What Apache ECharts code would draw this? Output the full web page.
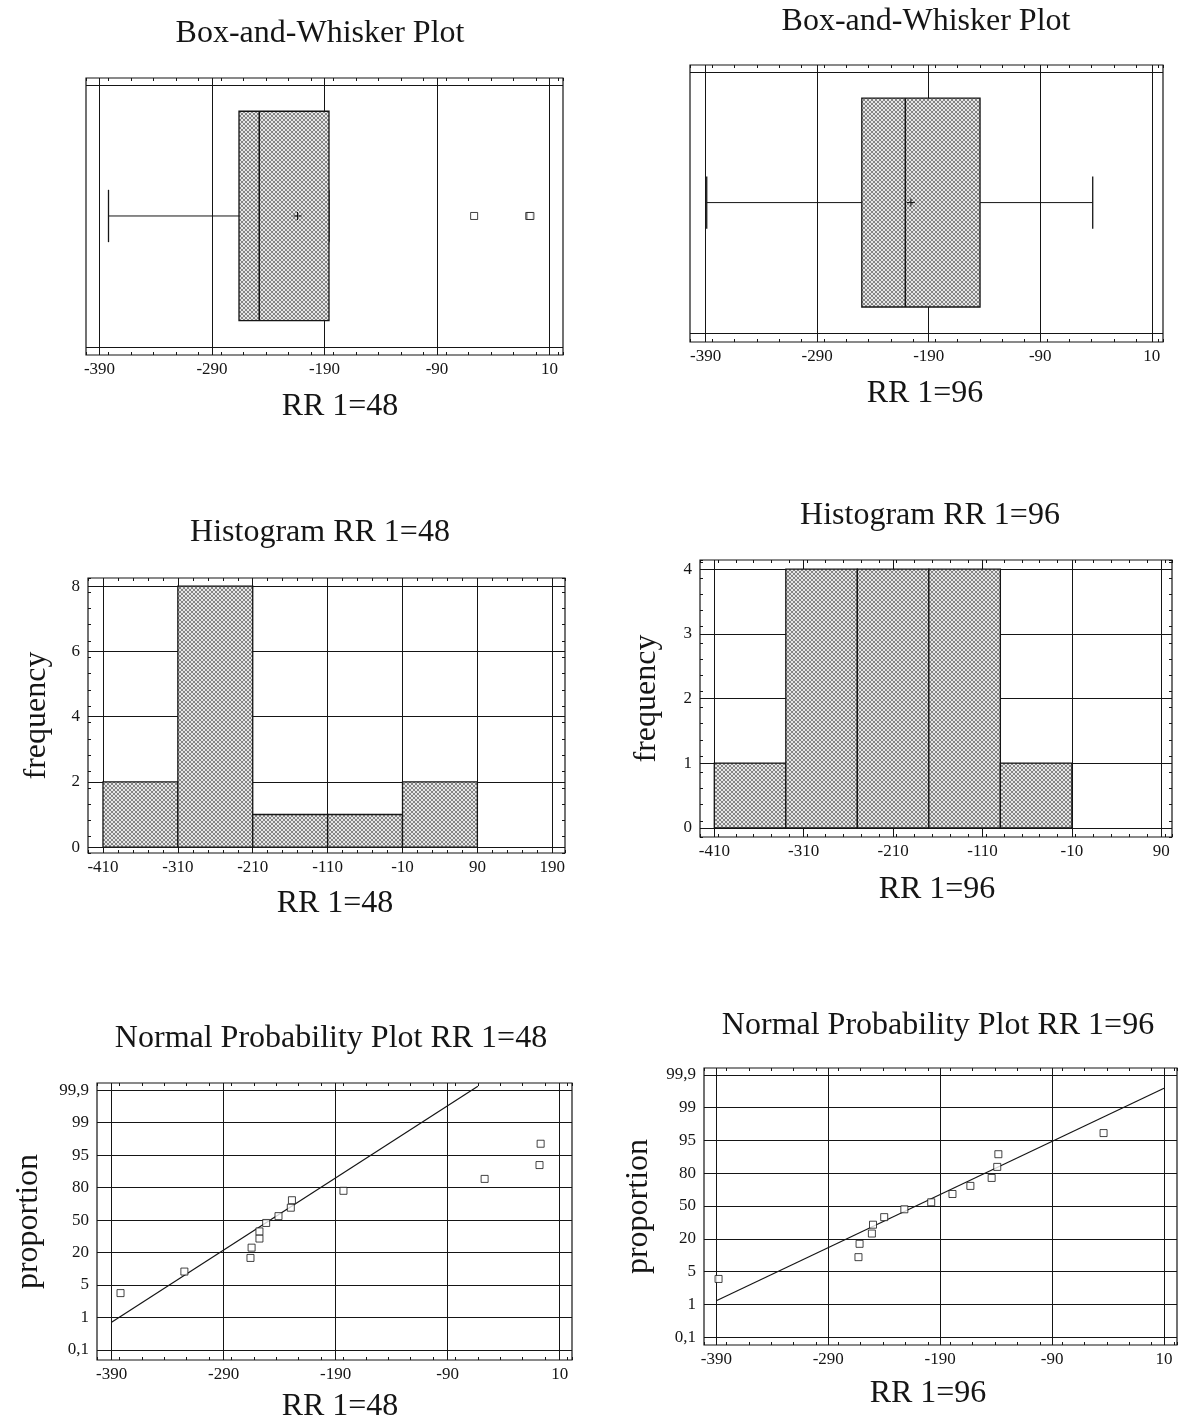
<!DOCTYPE html>
<html>
<head>
<meta charset="utf-8">
<title>RR 1=48 / RR 1=96</title>
<script src="https://cdn.jsdelivr.net/npm/echarts@6/dist/echarts.min.js"></script>
<style>
  html, body { margin: 0; padding: 0; background: #fff; }
  #main { width: 1179px; height: 1422px; }
</style>
</head>
<body>
<div id="main"></div>
<script>
// values
const xTicksRR = [-390, -290, -190, -90, 10];
const xTicksHist48 = [-410, -310, -210, -110, -10, 90, 190];
const xTicksHist96 = [-410, -310, -210, -110, -10, 90];
const yTicksHist48 = [0, 2, 4, 6, 8];
const yTicksHist96 = [0, 1, 2, 3, 4];
const probTicks = ['0,1', '1', '5', '20', '50', '80', '95', '99', '99,9'];
const probTickValues = [0.1, 1, 5, 20, 50, 80, 95, 99, 99.9];

// box-and-whisker: lower whisker, Q1, median, Q3, upper whisker, mean
const box48 = [-382, -266, -248, -186, -186, -214];
const box48Outliers = [-57, -8, -7];
const box96 = [-389, -250, -211, -144, -43, -206];
const box96Outliers = [];

// histograms: bin edges + frequencies
const hist48Edges = [-410, -310, -210, -110, -10, 90];
const hist48Counts = [2, 8, 1, 1, 2];
const hist96Edges = [-410, -330, -250, -170, -90, -10];
const hist96Counts = [1, 4, 4, 4, 1];

// normal probability plots: RR value and plotted proportion in %
const npp48X = [-382, -325, -266, -265, -258, -258, -252, -241, -230, -229, -183, -57, -8, -7];
const npp48P = [4.0, 11.2, 17.5, 24.5, 32.9, 39.5, 47.3, 53.6, 61.4, 68.3, 77.0, 84.0, 90.4, 96.4];
const npp96X = [-388, -263, -262, -251, -250, -240, -222, -198, -179, -163, -144, -139, -138, -44];
const npp96P = [4.1, 11.6, 17.7, 24.8, 32.9, 39.8, 47.0, 53.4, 61.0, 68.4, 75.7, 82.9, 88.7, 95.9];
// fitted lines, y given as position on the probability paper (0 = 0,1 %, 8 = 99,9 %)
const npp48Fit = [[-390, 0.85], [-63, 8.12]];
const npp96Fit = [[-390, 1.11], [10, 7.59]];

const serif = '"Liberation Serif", "Times New Roman", serif';
const ink = '#151515';

// the gridlines on the probability paper are equally spaced
function probPos(p) {
  for (let i = 1; i < probTickValues.length; i++) {
    if (p <= probTickValues[i]) {
      const a = probTickValues[i - 1], b = probTickValues[i];
      return i - 1 + (p - a) / (b - a);
    }
  }
  return probTickValues.length - 1;
}

// stippled grey used for boxes and bars
function stipple() {
  const c = document.createElement('canvas');
  c.width = 4; c.height = 4;
  const ctx = c.getContext('2d');
  ctx.fillStyle = '#e6e6e6';
  ctx.fillRect(0, 0, 4, 4);
  ctx.fillStyle = '#858585';
  [[0, 0], [1, 1], [2, 2], [3, 3], [3, 0], [2, 1], [1, 2], [0, 3]].forEach(function (d) {
    ctx.fillRect(d[0], d[1], 1, 1);
  });
  return c;
}
const shade = { image: stipple(), repeat: 'repeat' };

const grids = [], xAxes = [], yAxes = [], series = [], titles = [];

function addText(text, cx, cy, size) {
  titles.push({
    text: text, left: cx, top: cy, textAlign: 'center', textVerticalAlign: 'middle', padding: 0,
    textStyle: { fontFamily: serif, fontSize: size, fontWeight: 'normal', color: ink }
  });
}

// extra axes that only carry the small inside ticks along the frame
function tickAxis(gi, range, pos, interval) {
  return {
    type: 'value', gridIndex: gi, min: range[0], max: range[1], interval: interval, position: pos,
    axisLine: { show: false, onZero: false },
    axisTick: { show: true, inside: true, length: 3, lineStyle: { color: ink, width: 1 } },
    axisLabel: { show: false },
    splitLine: { show: false }
  };
}

function addPanel(p) {
  const gi = grids.length;
  grids.push({
    left: p.left, top: p.top, width: p.width, height: p.height,
    show: true, borderColor: ink, borderWidth: 1.2, backgroundColor: '#fff',
    containLabel: false, outerBoundsMode: 'none'
  });
  const xi = xAxes.length;
  xAxes.push({
    type: 'value', gridIndex: gi, min: p.x[0], max: p.x[1], position: 'bottom',
    axisLine: { show: false, onZero: false },
    axisTick: { show: false, customValues: p.xTicks },
    axisLabel: { customValues: p.xTicks, margin: 6, color: ink, fontFamily: serif, fontSize: 17 },
    splitLine: { show: true, customValues: p.xTicks, lineStyle: { color: ink, width: 1 } }
  });
  xAxes.push(tickAxis(gi, p.x, 'bottom', 20));
  xAxes.push(tickAxis(gi, p.x, 'top', 20));
  const yi = yAxes.length;
  yAxes.push({
    type: 'value', gridIndex: gi, min: p.y[0], max: p.y[1], position: 'left',
    name: p.yName || '', nameLocation: 'middle', nameRotate: 90, nameGap: p.yNameGap || 0,
    nameTextStyle: { fontFamily: serif, fontSize: 32, color: ink },
    axisLine: { show: false, onZero: false },
    axisTick: { show: false, customValues: p.yTicks },
    axisLabel: {
      show: !!p.yLabels, customValues: p.yTicks, margin: 8, color: ink, fontFamily: serif, fontSize: 17,
      formatter: p.yLabels || null
    },
    splitLine: { show: true, customValues: p.yTicks, lineStyle: { color: ink, width: 1 } }
  });
  if (p.yMinor) {
    yAxes.push(tickAxis(gi, p.y, 'left', p.yMinor));
    yAxes.push(tickAxis(gi, p.y, 'right', p.yMinor));
  }
  addText(p.title, p.titlePos[0], p.titlePos[1], 32);
  addText(p.xName, p.xNamePos[0], p.xNamePos[1], 32);
  return { xi: xi, yi: yi };
}

function boxItem(params, api) {
  const lo = api.value(0), q1 = api.value(1), med = api.value(2), q3 = api.value(3), hi = api.value(4), mean = api.value(5);
  const pt = function (x, y) { return api.coord([x, y]); };
  const seg = function (a, b, w) {
    return { type: 'line', shape: { x1: a[0], y1: a[1], x2: b[0], y2: b[1] }, style: { stroke: ink, lineWidth: w || 1 } };
  };
  const tl = pt(q1, 0.9), br = pt(q3, 0.1), m = pt(mean, 0.5);
  return {
    type: 'group',
    children: [
      seg(pt(lo, 0.5), pt(q1, 0.5)),
      seg(pt(q3, 0.5), pt(hi, 0.5)),
      seg(pt(lo, 0.4), pt(lo, 0.6), 1.3),
      seg(pt(hi, 0.4), pt(hi, 0.6), 1.3),
      { type: 'rect', shape: { x: tl[0], y: tl[1], width: br[0] - tl[0], height: br[1] - tl[1] },
        style: { fill: shade, stroke: ink, lineWidth: 1.3 } },
      seg(pt(med, 0.1), pt(med, 0.9), 1.5),
      seg([m[0] - 4, m[1]], [m[0] + 4, m[1]]),
      seg([m[0], m[1] - 4], [m[0], m[1] + 4])
    ]
  };
}

function histItem(params, api) {
  const a = api.coord([api.value(0), api.value(2)]);
  const b = api.coord([api.value(1), 0]);
  return {
    type: 'rect', shape: { x: a[0], y: a[1], width: b[0] - a[0], height: b[1] - a[1] },
    style: { fill: shade, stroke: ink, lineWidth: 1.3 }
  };
}

function addBox(p, stats, outliers) {
  const ax = addPanel(p);
  series.push({
    type: 'custom', xAxisIndex: ax.xi, yAxisIndex: ax.yi, renderItem: boxItem,
    data: [stats], silent: true, z: 3
  });
  series.push({
    type: 'scatter', xAxisIndex: ax.xi, yAxisIndex: ax.yi, symbol: 'rect', symbolSize: 7,
    itemStyle: { color: '#fff', borderColor: ink, borderWidth: 1 },
    data: outliers.map(function (v) { return [v, 0.5]; }), silent: true, z: 4
  });
}

function addHist(p, edges, counts) {
  const ax = addPanel(p);
  series.push({
    type: 'custom', xAxisIndex: ax.xi, yAxisIndex: ax.yi, renderItem: histItem,
    data: counts.map(function (c, i) { return [edges[i], edges[i + 1], c]; }), silent: true, z: 3
  });
}

function addNpp(p, xs, ps, fit) {
  const ax = addPanel(p);
  series.push({
    type: 'line', xAxisIndex: ax.xi, yAxisIndex: ax.yi, data: fit, symbol: 'none',
    lineStyle: { color: ink, width: 1.2 }, silent: true, z: 3
  });
  series.push({
    type: 'scatter', xAxisIndex: ax.xi, yAxisIndex: ax.yi, symbol: 'rect', symbolSize: 7,
    itemStyle: { color: '#fff', borderColor: ink, borderWidth: 1 },
    data: xs.map(function (x, i) { return [x, probPos(ps[i])]; }), silent: true, z: 4
  });
}

const probLabel = function (v) { return probTicks[Math.round(v)]; };
const probIdx = probTicks.map(function (t, i) { return i; });

addBox({
  left: 86, top: 78, width: 477, height: 277, x: [-402, 22], y: [-0.031, 1.027],
  xTicks: xTicksRR, yTicks: [0, 1],
  title: 'Box-and-Whisker Plot', titlePos: [320, 34], xName: 'RR 1=48', xNamePos: [340, 407]
}, box48, box48Outliers);

addBox({
  left: 690, top: 65, width: 473, height: 277, x: [-404, 20], y: [-0.034, 1.027],
  xTicks: xTicksRR, yTicks: [0, 1],
  title: 'Box-and-Whisker Plot', titlePos: [926, 22], xName: 'RR 1=96', xNamePos: [925, 394]
}, box96, box96Outliers);

addHist({
  left: 88, top: 578, width: 477, height: 275, x: [-430, 207], y: [-0.18, 8.25],
  xTicks: xTicksHist48, yTicks: yTicksHist48, yLabels: '{value}', yMinor: 0.5,
  yName: 'frequency', yNameGap: 35,
  title: 'Histogram RR 1=48', titlePos: [320, 533], xName: 'RR 1=48', xNamePos: [335, 904]
}, hist48Edges, hist48Counts);

addHist({
  left: 700, top: 560, width: 472, height: 277, x: [-426, 102], y: [-0.14, 4.14],
  xTicks: xTicksHist96, yTicks: yTicksHist96, yLabels: '{value}', yMinor: 0.25,
  yName: 'frequency', yNameGap: 37,
  title: 'Histogram RR 1=96', titlePos: [930, 516], xName: 'RR 1=96', xNamePos: [937, 890]
}, hist96Edges, hist96Counts);

addNpp({
  left: 97, top: 1083, width: 475, height: 277, x: [-403, 21], y: [-0.31, 8.22],
  xTicks: xTicksRR, yTicks: probIdx, yLabels: probLabel,
  yName: 'proportion', yNameGap: 52,
  title: 'Normal Probability Plot RR 1=48', titlePos: [331, 1039], xName: 'RR 1=48', xNamePos: [340, 1407]
}, npp48X, npp48P, npp48Fit);

addNpp({
  left: 704, top: 1068, width: 473, height: 277, x: [-401, 21.6], y: [-0.24, 8.21],
  xTicks: xTicksRR, yTicks: probIdx, yLabels: probLabel,
  yName: 'proportion', yNameGap: 49,
  title: 'Normal Probability Plot RR 1=96', titlePos: [938, 1026], xName: 'RR 1=96', xNamePos: [928, 1394]
}, npp96X, npp96P, npp96Fit);

const chart = echarts.init(document.getElementById('main'));
chart.setOption({
  backgroundColor: '#fff',
  animation: false,
  title: titles,
  grid: grids,
  xAxis: xAxes,
  yAxis: yAxes,
  series: series
});
</script>
</body>
</html>
